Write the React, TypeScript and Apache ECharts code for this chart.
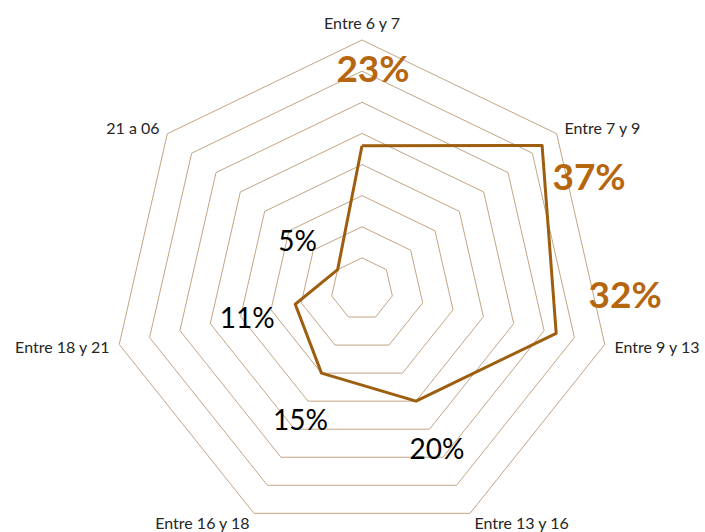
import React, { useEffect, useRef } from 'react';
import * as echarts from 'echarts';

const CATEGORIES = ['Entre 6 y 7', 'Entre 7 y 9', 'Entre 9 y 13', 'Entre 13 y 16', 'Entre 16 y 18', 'Entre 18 y 21', '21 a 06'];
const VALUES = [23, 37, 32, 20, 15, 11, 5];
const MAX_VALUE = 40;
const SPLITS = 8;

// label placement / style (not data)
const LABEL_OFFSETS: [number, number][] = [[11, -78], [47, 30], [69, -40], [21, 47], [-21, 46], [-48, 13], [-40, -30]];
const HIGHLIGHTED = [true, true, true, false, false, false, false];

const FONT = 'Lato, "Open Sans", sans-serif';

export default function App() {
  const ref = useRef<HTMLDivElement>(null);
  useEffect(() => {
    if (!ref.current) return;
    const chart = echarts.init(ref.current, null, { renderer: 'svg' });
    // ECharts lays radar indicators counter-clockwise; reorder to get clockwise
    const order = [0, ...CATEGORIES.map((_, i) => i).slice(1).reverse()];
    const indicator = order.map((i) => ({ name: CATEGORIES[i], max: MAX_VALUE, min: 0 }));
    const vals = order.map((i) => VALUES[i]);

    const labelItems = VALUES.map((v, i) => ({
      value: vals,
      symbol: 'circle',
      symbolSize: 1,
      itemStyle: { color: 'rgba(0,0,0,0)' },
      lineStyle: { width: 0, opacity: 0 },
      label: {
        show: true,
        position: 'inside',
        offset: LABEL_OFFSETS[i],
        formatter: (p: any) => (p.value === v ? v + '%' : ''),
        color: HIGHLIGHTED[i] ? '#B5660F' : '#000000',
        fontSize: HIGHLIGHTED[i] ? 37 : 28,
        fontWeight: HIGHLIGHTED[i] ? 'bold' : 'normal',
        fontFamily: FONT,
      },
    }));

    chart.setOption({
      animation: false,
      radar: {
        center: [362, 289],
        radius: 249,
        startAngle: 90,
        shape: 'polygon',
        splitNumber: SPLITS,
        indicator,
        nameGap: 10,
        axisName: { color: '#262626', fontSize: 16, fontFamily: FONT },
        axisLine: { show: false },
        axisTick: { show: false },
        axisLabel: { show: false },
        splitArea: { show: false },
        splitLine: { lineStyle: { color: '#C2A585', width: 1 } },
      },
      series: [
        {
          type: 'radar',
          symbol: 'none',
          lineStyle: { color: '#9E5E10', width: 3 },
          data: [{ value: vals, name: 'Porcentaje' }],
          z: 3,
        },
        {
          type: 'radar',
          data: labelItems,
          z: 4,
          silent: true,
        },
      ],
    });
    return () => chart.dispose();
  }, []);
  return <div ref={ref} style={{ position: 'fixed', left: 0, top: 0, width: 705, height: 532, background: '#fff' }} />;
}
